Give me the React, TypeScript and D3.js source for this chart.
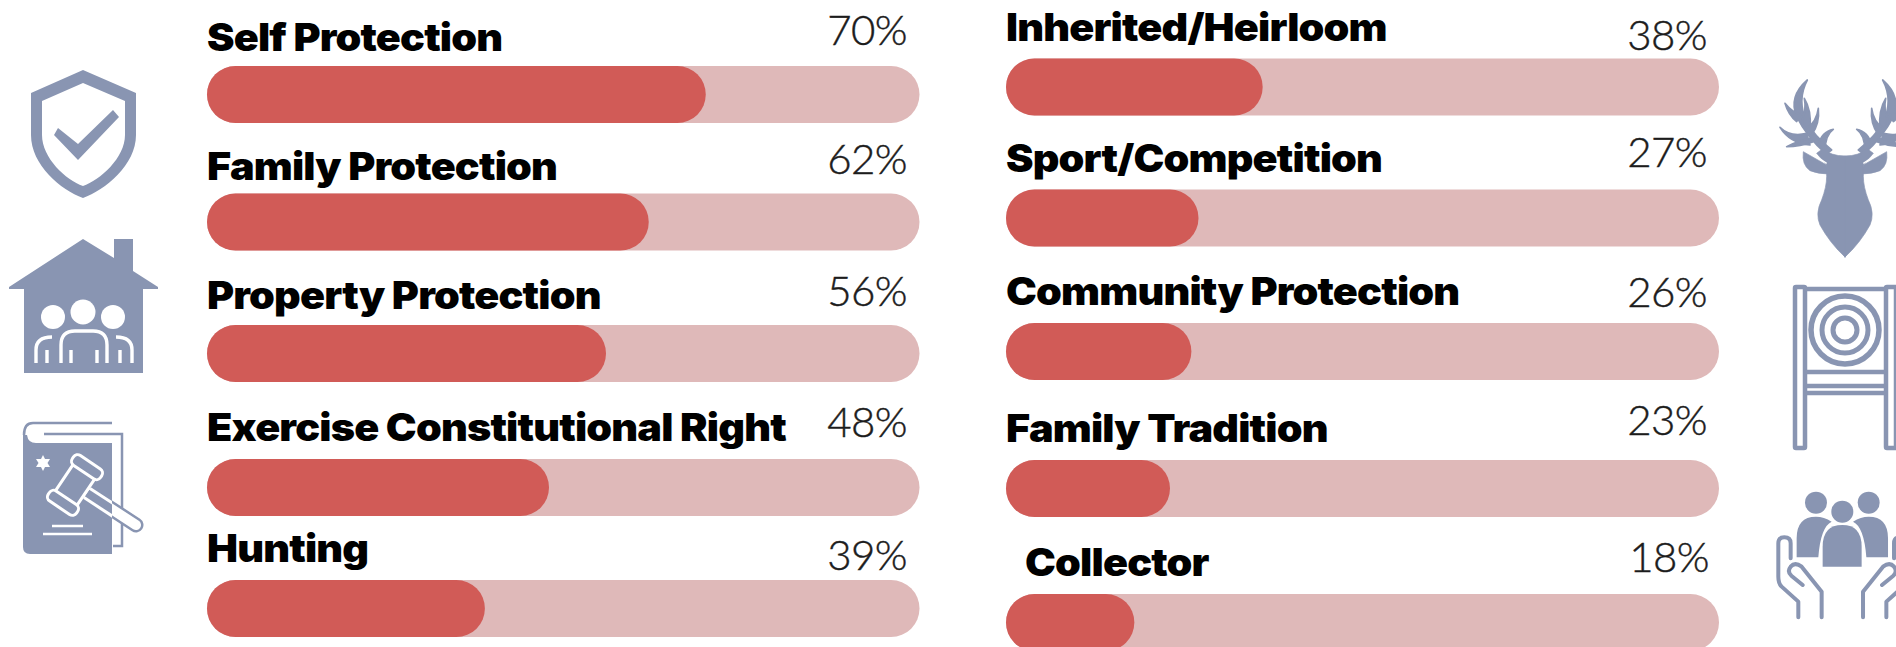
import React from "react";
import * as d3 from "d3";

const leftCategories = ["Self Protection", "Family Protection", "Property Protection", "Exercise Constitutional Right", "Hunting"];
const leftValues = [70, 62, 56, 48, 39];
const leftFill = [70, 62, 56, 48, 39];
const rightCategories = ["Inherited/Heirloom", "Sport/Competition", "Community Protection", "Family Tradition", "Collector"];
const rightValues = [38, 27, 26, 23, 18];
const rightFill = [36, 27, 26, 23, 18];

// layout, kept apart from the data
const leftBarY = [66, 193.500, 325, 459, 580];
const leftLabelY = [51, 180, 309, 441, 562];
const leftPctY = [45, 174, 306, 437, 570];
const rightBarY = [58.5, 189.5, 323, 460, 594];
const rightLabelY = [41, 172, 305, 442, 576];
const rightLabelX = [1006, 1006, 1006, 1006, 1025];
const rightPctY = [50, 167, 307, 435, 572];
const rightPctX = [1707, 1707, 1707, 1707, 1709];

const BAR_H = 57;
const RED = "#D15B57";
const TRACK = "#DFB9B9";
const ICON = "#8995B2";

const xLeft = d3.scaleLinear().domain([0, 100]).range([207, 919.5]);
const xRight = d3.scaleLinear().domain([0, 100]).range([1006, 1719]);

const labelStyle: React.CSSProperties = { fontFamily: "Inter, sans-serif", fontWeight: 900, fontSize: 38, letterSpacing: "-0.75px", fill: "#000" };
const pctStyle: React.CSSProperties = { fontFamily: "Lato, sans-serif", fontWeight: 300, fontSize: 42, letterSpacing: "-0.6px", fill: "#1c1c1c", stroke: "#1c1c1c", strokeWidth: 0.45 };

function Column({ cats, vals, fills, x, barY, labY, labX, pctY, pctX }: any) {
  return (
    <g>
      {cats.map((c: string, i: number) => (
        <g key={c}>
          <rect x={x(0)} y={barY[i]} width={x(100) - x(0)} height={BAR_H} rx={BAR_H / 2} fill={TRACK} />
          <rect x={x(0)} y={barY[i]} width={x(fills[i]) - x(0)} height={BAR_H} rx={BAR_H / 2} fill={RED} />
          <text transform={`translate(${labX[i]} ${labY[i]}) scale(1.088 1)`} style={labelStyle}>{c}</text>
          <text x={pctX[i]} y={pctY[i]} textAnchor="end" style={pctStyle}>{vals[i]}%</text>
        </g>
      ))}
    </g>
  );
}

function Shield() {
  return (
    <g fill={ICON}>
      <path fillRule="evenodd" d="M83 70L136 93V135C136 165 105 190 83 198C61 190 31 165 31 135V93ZM83 83L42 101V135C42 158 66 180 83 186C100 180 125 158 125 135V101Z" />
      <path d="M54 135L58 128L78 144L113 110L119 117L78 160Z" />
    </g>
  );
}

function House() {
  return (
    <g>
      <path fill={ICON} d="M83 239L114 258V239H133V271L158 287V289H143V373H24V289H9V287Z" />
      <g fill="#fff">
        <circle cx={53} cy={317} r={12} />
        <circle cx={83} cy={312} r={12.5} />
        <circle cx={113} cy={317} r={12} />
      </g>
      <path fill="none" stroke="#fff" strokeWidth={3.4} d="M61 363V345Q61 331 75 331H93Q107 331 107 345V363M71 350V363M97 350V363M36 363V350Q36 337 52 337M47 350V363M132 363V350Q132 337 116 337M120 350V363" />
    </g>
  );
}

function Book() {
  return (
    <g>
      <defs>
        <clipPath id="bookClip"><rect x={23} y={440} width={89} height={114} /></clipPath>
      </defs>
      <path fill="none" stroke={ICON} strokeWidth={2.5} d="M44 434H122V546H113" />
      <path fill={ICON} d="M23 435H27Q28 443 36 443H112V554H30Q23 554 23 547Z" />
      <path fill="none" stroke={ICON} strokeWidth={2.5} d="M112 423H33Q24 423 24 435" />
      <path fill="#fff" d="M43 455L45 459L50 459L47.500 463L50 467L45 467L43 471L41 467L36 467L38.500 463L36 459L41 459Z" />
      <path stroke={ICON} strokeWidth={15} strokeLinecap="round" d="M87 493L136 525" />
      <path stroke="#fff" strokeWidth={10} strokeLinecap="round" d="M87 493L136 525" />
      <g clipPath="url(#bookClip)">
        <path stroke="#fff" strokeWidth={14} d="M87 493L136 525" />
        <path stroke={ICON} strokeWidth={8} d="M87 493L136 525" />
      </g>
      <g transform="translate(75 485) rotate(34)" stroke="#fff" strokeWidth={3} fill={ICON}>
        <rect x={-13} y={-17} width={26} height={34} />
        <rect x={-17} y={-27.500} width={34} height={12} rx={5} />
        <rect x={-17} y={15.500} width={34} height={12} rx={5} />
      </g>
      <path stroke="#fff" strokeWidth={2.5} d="M52 526H83M43 534H92" />
    </g>
  );
}

function DeerHalf() {
  return (
    <g fill={ICON} stroke={ICON} strokeWidth={5} strokeLinejoin="round">
      <path d="M528 312Q470 260 440 200Q415 140 472 90Q440 150 470 215Q490 255 545 300Z" />
      <path d="M455 215Q470 180 463 145Q485 180 480 235Z" />
      <path d="M470 235Q500 215 505 175Q510 220 485 255Z" />
      <path d="M440 215Q415 195 405 160Q425 185 452 195Z" />
      <path d="M480 285Q420 280 390 232Q420 262 470 250Z" />
      <path d="M490 275Q450 290 410 290Q450 270 480 265Z" />
      <path d="M505 285Q515 245 550 238Q525 255 525 305Z" />
      <path strokeWidth={2} d="M530 345L460 305Q455 345 480 362Q505 372 535 372Z" />
      <path strokeWidth={2} d="M586 318Q540 318 520 295L500 310L530 345V380Q530 410 515 450Q495 490 510 525Q540 580 586 622Z" />
      <path fill="none" stroke="#fff" strokeWidth={4} d="M470 300L530 340" />
    </g>
  );
}

function Target() {
  return (
    <g fill="none" stroke={ICON} strokeWidth={4.5}>
      <rect x={1795} y={287} width={10} height={161} rx={1} />
      <rect x={1886} y={287} width={10} height={161} rx={1} />
      <path d="M1805 289H1886M1805 372H1886M1805 386H1886M1805 393H1886" />
      <circle cx={1845} cy={330} r={34} strokeWidth={5.5} />
      <circle cx={1845} cy={330} r={23} strokeWidth={5} />
      <circle cx={1845} cy={330} r={12} strokeWidth={5} />
    </g>
  );
}

function HandSide() {
  return (
    <g>
      <path fill="none" stroke={ICON} strokeWidth={12} strokeLinecap="round" strokeLinejoin="round" d="M445 952V905L395 860Q385 850 385 830V730Q385 712 403 712Q422 712 422 730V775M515 952V875L455 800Q435 785 422 800Q410 815 425 828L458 855" />
      <circle cx={498} cy={608} r={33} fill={ICON} />
      <path fill={ICON} d="M440 772V715Q440 650 498 650Q522 650 545 665Q512 680 505 772Z" />
    </g>
  );
}

function Community() {
  const l = "translate(1650 300) scale(0.3333)";
  const r = "translate(2034.67 300) scale(-0.3333 0.3333)";
  return (
    <g>
      <g transform={l}><HandSide /></g>
      <g transform={r}><HandSide /></g>
      <g transform={l} fill={ICON}>
        <circle cx={577} cy={635} r={33} />
        <path d="M518 800V740Q518 675 577 675Q635 675 635 740V800Z" />
      </g>
    </g>
  );
}

export default function App() {
  return (
    <svg width={1896} height={647} viewBox="0 0 1896 647" style={{ position: "absolute", left: 0, top: 0, background: "#fff" }}>
      <Column cats={leftCategories} vals={leftValues} fills={leftFill} x={xLeft} barY={leftBarY} labY={leftLabelY} labX={leftCategories.map(() => 207)} pctY={leftPctY} pctX={leftCategories.map(() => 907)} />
      <Column cats={rightCategories} vals={rightValues} fills={rightFill} x={xRight} barY={rightBarY} labY={rightLabelY} labX={rightLabelX} pctY={rightPctY} pctX={rightPctX} />
      <Shield />
      <House />
      <Book />
      <g transform="translate(1650 50) scale(0.3333)"><DeerHalf /></g>
      <g transform="translate(2040 50) scale(-0.3333 0.3333)"><DeerHalf /></g>
      <Target />
      <Community />
    </svg>
  );
}
